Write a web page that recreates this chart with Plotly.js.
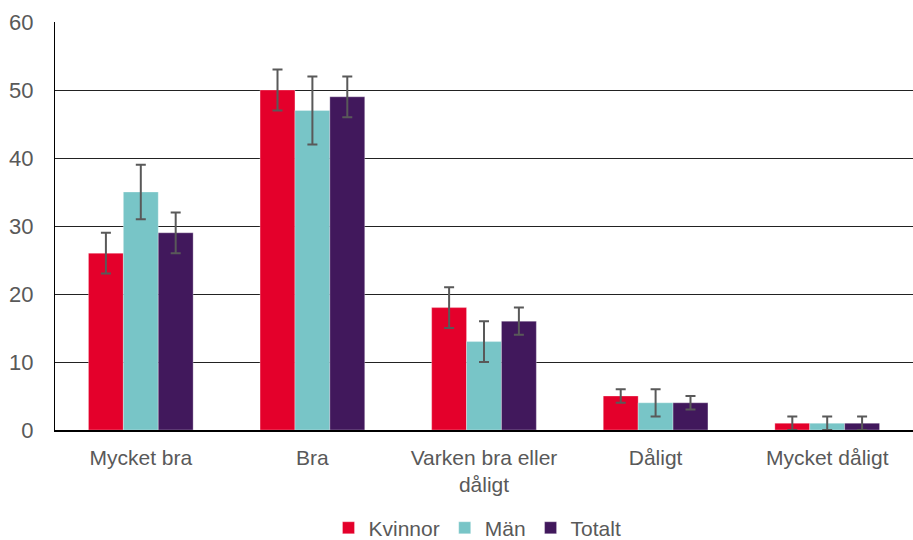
<!DOCTYPE html>
<html>
<head>
<meta charset="utf-8">
<script src="https://cdn.plot.ly/plotly-3.0.1.min.js"></script>
<style>html,body{margin:0;padding:0;background:#fff;}#chart{width:913px;height:540px;}</style>
</head>
<body>
<div id="chart"></div>
<script>
const categories = ["Mycket bra", "Bra", "Varken bra eller<br>dåligt", "Dåligt", "Mycket dåligt"];
const kvinnor = [26, 50, 18, 5, 1];
const kvinnorErr = [3, 3, 3, 1, 1];
const man = [35, 47, 13, 4, 1];
const manErr = [4, 5, 3, 2, 1];
const totalt = [29, 49, 16, 4, 1];
const totaltErr = [3, 3, 2, 1, 1];
const yTicks = [0, 10, 20, 30, 40, 50, 60];

function series(name, y, err, color) {
  return {
    type: 'bar', name: name, x: categories, y: y,
    marker: {color: color, line: {color: 'rgba(255,255,255,0.6)', width: 0.5}},
    error_y: {type: 'data', array: err, visible: true, color: '#595959', thickness: 2, width: 5}
  };
}

const data = [
  series('Kvinnor', kvinnor, kvinnorErr, '#E4002B'),
  series('Män', man, manErr, '#78C5C7'),
  series('Totalt', totalt, totaltErr, '#41185C')
];

const layout = {
  width: 913, height: 540,
  margin: {l: 55, r: 0, t: 22, b: 110},
  paper_bgcolor: '#fff', plot_bgcolor: '#fff',
  font: {family: 'Liberation Sans, Arial, sans-serif', size: 21, color: '#595959'},
  barmode: 'group', bargap: 0.39, bargroupgap: 0,
  showlegend: true,
  legend: {orientation: 'h', xref: 'container', yref: 'container', x: 0.523, xanchor: 'center', y: 0.022, yanchor: 'middle', font: {size: 21, color: '#595959'}, itemwidth: 30, traceorder: 'normal', tracegroupgap: 0},
  xaxis: {showgrid: false, showline: true, linecolor: '#000', linewidth: 1.5, ticks: '', tickfont: {size: 21, color: '#595959'}, ticklabelstandoff: 8, fixedrange: true},
  yaxis: {range: [0, 60], tickvals: yTicks, showgrid: true, gridcolor: '#222', gridwidth: 1, showline: true, linecolor: '#000', linewidth: 1, zeroline: false, ticks: '', tickfont: {size: 22, color: '#595959'}, ticklabelstandoff: 16, fixedrange: true}
};

Plotly.newPlot('chart', data, layout, {displayModeBar: false, staticPlot: true});
</script>
</body>
</html>
